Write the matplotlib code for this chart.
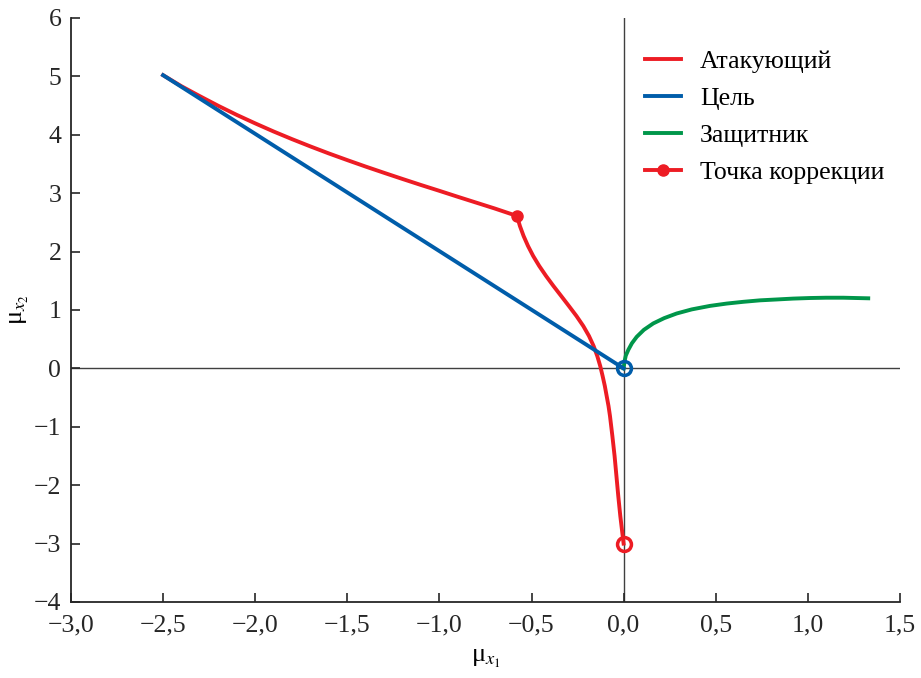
# Подключение необходимых библиотек
import matplotlib.pyplot as plt
from matplotlib.ticker import FuncFormatter

plt.rcParams['font.family'] = ['Liberation Serif', 'DejaVu Serif']
plt.rcParams['mathtext.fontset'] = 'stix'

# Данные траекторий
# Атакующий до точки коррекции
attacker_x1 = [-2.50, -2.40, -2.30, -2.20, -2.10, -2.00, -1.90, -1.80, -1.70, -1.60,
               -1.50, -1.40, -1.30, -1.20, -1.10, -1.00, -0.90, -0.80, -0.70, -0.579]
attacker_y1 = [5.02, 4.83, 4.66, 4.495, 4.34, 4.195, 4.056, 3.925, 3.80, 3.68,
               3.566, 3.455, 3.348, 3.243, 3.14, 3.04, 2.938, 2.838, 2.738, 2.61]

# Атакующий после точки коррекции
attacker_x2 = [-0.579, -0.563, -0.543, -0.519, -0.491, -0.458, -0.421, -0.381,
               -0.339, -0.297, -0.256, -0.219, -0.188, -0.163, -0.143, -0.127,
               -0.114, -0.102, -0.092, -0.082, -0.074, -0.061, -0.049, -0.039,
               -0.029, -0.018, 0.0]
attacker_y2 = [2.61, 2.438, 2.267, 2.096, 1.925, 1.753, 1.582, 1.411,
               1.240, 1.068, 0.897, 0.726, 0.555, 0.384, 0.212, 0.041,
               -0.130, -0.301, -0.473, -0.644, -0.815, -1.158, -1.500, -1.842,
               -2.185, -2.527, -3.0]

target_x = [-2.50, 0.0]
target_y = [5.02, 0.0]

defender_x = [0.0, 0.005, 0.012, 0.026, 0.045, 0.071, 0.11, 0.161, 0.22, 0.288,
              0.37, 0.469, 0.56, 0.650, 0.74, 0.831, 0.92, 1.012, 1.10, 1.193,
              1.26, 1.328]
defender_y = [0.0, 0.12, 0.22, 0.32, 0.43, 0.54, 0.66, 0.77, 0.86, 0.94,
              1.01, 1.07, 1.11, 1.14, 1.165, 1.18, 1.195, 1.205, 1.21, 1.21,
              1.205, 1.20]

corr_x = [-0.579]
corr_y = [2.61]

x_ticks = [-3.0, -2.5, -2.0, -1.5, -1.0, -0.5, 0.0, 0.5, 1.0, 1.5]
y_ticks = [-4, -3, -2, -1, 0, 1, 2, 3, 4, 5, 6]

red = '#ED1C24'
blue = '#005DAA'
green = '#00964A'

fig = plt.figure(figsize=(9.21, 6.78), dpi=100)
ax = fig.add_axes([0.0771, 0.1121, 0.900, 0.8614])

# Оси координат через ноль
ax.axhline(0, color='0.25', lw=1.0, zorder=1)
ax.axvline(0, color='0.25', lw=1.0, zorder=1)

# Траектории
ax.plot(attacker_x1 + attacker_x2[1:], attacker_y1 + attacker_y2[1:],
        color=red, lw=2.8, label='Атакующий', zorder=3, solid_joinstyle='round')
ax.plot(target_x, target_y, color=blue, lw=2.8, label='Цель', zorder=4)
ax.plot(defender_x, defender_y, color=green, lw=2.8, label='Защитник', zorder=3,
        solid_joinstyle='round')
ax.plot(corr_x, corr_y, '-o', color=red, lw=2.8, ms=8, label='Точка коррекции', zorder=5)

# Конечные точки (пустые кружки)
ax.plot(target_x[-1:], target_y[-1:], 'o', mfc='none', mec=blue, mew=2.5, ms=10, zorder=6)
ax.plot(attacker_x2[-1:], attacker_y2[-1:], 'o', mfc='none', mec=red, mew=2.5, ms=10, zorder=6)

ax.set_xlim(-3.0, 1.5)
ax.set_ylim(-4, 6)
ax.set_xticks(x_ticks)
ax.set_yticks(y_ticks)


def fmt_x(v, pos):
    s = f'{v:.1f}'.replace('.', ',')
    if s.startswith('-'):
        s = '\u2212' + s[1:]
    if s == '\u22120,0':
        s = '0,0'
    return s


def fmt_y(v, pos):
    s = f'{int(round(v))}'
    return s.replace('-', '\u2212')


ax.xaxis.set_major_formatter(FuncFormatter(fmt_x))
ax.yaxis.set_major_formatter(FuncFormatter(fmt_y))

for side in ['top', 'right']:
    ax.spines[side].set_visible(False)
for side in ['left', 'bottom']:
    ax.spines[side].set_linewidth(1.3)
    ax.spines[side].set_color('0.15')

ax.tick_params(direction='in', length=6.5, width=1.2, labelsize=18.5, pad=7, colors='0.15')
ax.tick_params(axis='x', pad=9)

ax.set_xlabel('μ$_{x_1}$', fontsize=19, labelpad=8)
ax.set_ylabel('μ$_{x_2}$', fontsize=19, labelpad=2)

ax.legend(loc='upper right', bbox_to_anchor=(1.009, 0.985), frameon=False, fontsize=18.5,
          handlelength=1.4, handletextpad=0.75, labelspacing=0.55)

plt.savefig('out.png', dpi=100)
